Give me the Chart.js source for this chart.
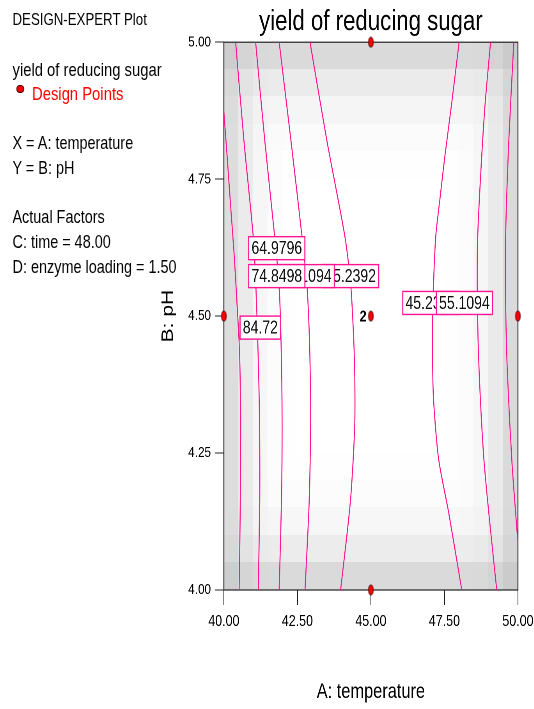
<!DOCTYPE html>
<html>
<head>
<meta charset="utf-8">
<script src="https://cdn.jsdelivr.net/npm/chart.js@4.4.1/dist/chart.umd.min.js"></script>
<style>
	html, body { margin: 0; padding: 0; background: #fff; overflow: hidden; }
	#page { position: absolute; left: 0; top: 0; width: 685px; height: 709px; transform: scaleX(0.78); transform-origin: 0 0; font-family: Arial, "Liberation Sans", sans-serif; }
	#chart { position: absolute; left: 0; top: 0; }
	.note { position: absolute; left: 16px; white-space: nowrap; line-height: 1; color: #000; font-size: 18.5px; }
	.dot { position: absolute; left: 21px; top: 85px; width: 8px; height: 6px; border: 1px solid #400000; border-radius: 50%; background: #ff0000; }
</style>
</head>
<body>
<div id="page">
	<canvas id="chart" width="685" height="709"></canvas>
	<div class="note" style="top: 11px; font-size: 17px">DESIGN-EXPERT Plot</div>
	<div class="note" style="top: 60px; font-size: 19px">yield of reducing sugar</div>
	<div class="dot"></div>
	<div class="note" style="top: 84px; left: 41px; font-size: 19px; color: #ff0000">Design Points</div>
	<div class="note" style="top: 134px">X = A: temperature</div>
	<div class="note" style="top: 159px">Y = B: pH</div>
	<div class="note" style="top: 207.5px">Actual Factors</div>
	<div class="note" style="top: 232.5px">C: time = 48.00</div>
	<div class="note" style="top: 257.5px">D: enzyme loading = 1.50</div>
</div>
<script>
// ============= Data =============

const tempTicks = [40, 42.5, 45, 47.5, 50];
const phTicks = [4, 4.25, 4.5, 4.75, 5];

// contour lines, read top to bottom (temperature, pH)
const contourLevels = [84.72, 74.8498, 64.9796, 55.1094, 45.2392, 45.2392, 55.1094, 64.9796];

const contour1Temp = [40.00, 40.12, 40.24, 40.34, 40.44, 40.53, 40.57, 40.56, 40.52];
const contour1PH = [4.872, 4.785, 4.693, 4.620, 4.529, 4.438, 4.310, 4.164, 4.000];

const contour2Temp = [40.40, 40.68, 41.00, 41.09, 41.16, 41.21, 41.22, 41.17];
const contour2PH = [5.000, 4.821, 4.644, 4.553, 4.440, 4.320, 4.164, 4.000];

const contour3Temp = [41.08, 41.39, 41.73, 41.88, 41.95, 41.98, 41.96, 41.88];
const contour3PH = [5.000, 4.821, 4.644, 4.553, 4.440, 4.310, 4.164, 4.000];

const contour4Temp = [41.88, 42.28, 42.66, 42.83, 42.92, 42.95, 42.90, 42.76];
const contour4PH = [5.000, 4.821, 4.644, 4.553, 4.438, 4.310, 4.160, 4.000];

const contour5Temp = [42.93, 43.50, 44.12, 44.32, 44.44, 44.45, 44.30, 43.97];
const contour5PH = [5.000, 4.821, 4.644, 4.553, 4.420, 4.300, 4.160, 4.000];

const contour6Temp = [48.00, 47.74, 47.52, 47.35, 47.20, 47.10, 47.12, 47.30, 47.65, 48.09];
const contour6PH = [5.000, 4.885, 4.794, 4.715, 4.642, 4.500, 4.360, 4.240, 4.140, 4.000];

const contour7Temp = [49.07, 48.88, 48.74, 48.63, 48.62, 48.68, 48.84, 49.03, 49.28];
const contour7PH = [5.000, 4.885, 4.765, 4.642, 4.529, 4.400, 4.240, 4.130, 4.000];

const contour8Temp = [49.86, 49.69, 49.58, 49.58, 49.64, 49.80, 50.00];
const contour8PH = [5.000, 4.821, 4.642, 4.529, 4.400, 4.230, 4.086];

// contour value boxes, in drawing order (later ones cover earlier ones)
const labelText = ["45.2392", "55.1094", "74.8498", "64.9796", "84.72", "45.2392", "55.1094"];
const labelTemp = [44.31, 42.80, 41.80, 41.80, 41.24, 47.04, 48.18];
const labelPH = [4.573, 4.573, 4.573, 4.624, 4.479, 4.524, 4.524];

const designTemp = [40, 45, 45, 45, 50];
const designPH = [4.5, 5, 4.5, 4, 4.5];
const designRuns = [1, 1, 2, 1, 1];

// grey depth of the standard error shading: 20 columns (40 -> 50) and 20 rows (pH 5 -> 4)
const shadeColumns = [34, 20, 9, 3, 1, 0, 0, 0, 0, 0, 0, 0, 0, 0, 0, 1, 3, 9, 21, 37];
const shadeRows = [37, 20, 10, 4, 1, 0, 0, 0, 0, 0, 0, 0, 0, 0, 0, 1, 3, 8, 19, 37];

const PINK = "#ff1493";
const FONT = "Arial, 'Liberation Sans', sans-serif";

// ============= Utility =============

function pairs(xs, ys)
{
	return xs.map((x, i) => ({ x, y: ys[i] }));
}

function createDotImage()
{
	const canvas = document.createElement("canvas");
	canvas.width = 8;
	canvas.height = 12;

	const ctx = canvas.getContext("2d");
	ctx.beginPath();
	ctx.ellipse(4, 6, 3.1, 4.9, 0, 0, Math.PI * 2);
	ctx.fillStyle = "#ff0000";
	ctx.fill();
	ctx.strokeStyle = "#400000";
	ctx.lineWidth = 1;
	ctx.stroke();

	return canvas;
}

function contourDataset(level, temps, phs)
{
	return {
		label: String(level),
		data: pairs(temps, phs),
		showLine: true,
		borderColor: PINK,
		borderWidth: 1.3,
		pointRadius: 0,
		tension: 0.25,
		fill: false
	};
}

// ============= Plugins =============

const shadingPlugin = {
	id: "shading",
	beforeDraw(chart)
	{
		const { ctx, scales: { x, y } } = chart;
		const cols = shadeColumns.length;
		const rows = shadeRows.length;

		ctx.save();
		for (let i = 0; i < cols; i++)
		{
			const x0 = Math.floor(x.getPixelForValue(40 + i * 10 / cols));
			const x1 = Math.ceil(x.getPixelForValue(40 + (i + 1) * 10 / cols));

			for (let j = 0; j < rows; j++)
			{
				const y0 = Math.floor(y.getPixelForValue(5 - j / rows));
				const y1 = Math.ceil(y.getPixelForValue(5 - (j + 1) / rows));
				const depth = Math.hypot(shadeColumns[i], shadeRows[j]);
				const g = Math.round(255 - depth);

				ctx.fillStyle = `rgb(${g},${g},${g})`;
				ctx.fillRect(x0, y0, x1 - x0, y1 - y0);
			}
		}
		ctx.restore();
	}
};

const framePlugin = {
	id: "frame",
	beforeDatasetsDraw(chart)
	{
		const { ctx, chartArea: a } = chart;
		ctx.save();
		ctx.strokeStyle = "#222";
		ctx.lineWidth = 1.2;
		ctx.strokeRect(a.left, a.top, a.right - a.left, a.bottom - a.top);
		ctx.restore();
	}
};

const labelPlugin = {
	id: "contourLabels",
	afterDatasetsDraw(chart)
	{
		const { ctx, scales: { x, y } } = chart;

		ctx.save();
		ctx.font = `18px ${FONT}`;
		ctx.textBaseline = "middle";
		ctx.textAlign = "left";

		labelText.forEach((text, i) =>
		{
			const cx = x.getPixelForValue(labelTemp[i]);
			const cy = y.getPixelForValue(labelPH[i]);
			const w = ctx.measureText(text).width + 7;
			const h = 23;

			ctx.fillStyle = "#fff";
			ctx.fillRect(cx - w / 2, cy - h / 2, w, h);
			ctx.strokeStyle = PINK;
			ctx.lineWidth = 1.4;
			ctx.strokeRect(cx - w / 2, cy - h / 2, w, h);
			ctx.fillStyle = "#111";
			ctx.fillText(text, cx - w / 2 + 3.5, cy + 1);
		});

		// replicate counts beside the design points
		ctx.font = `bold 16px ${FONT}`;
		ctx.textAlign = "right";
		ctx.fillStyle = "#000";
		designRuns.forEach((runs, i) =>
		{
			if (runs < 2) return;
			ctx.fillText(String(runs), x.getPixelForValue(designTemp[i]) - 5.5, y.getPixelForValue(designPH[i]) + 1);
		});

		ctx.restore();
	}
};

// ============= Chart =============

const datasets = [
	{
		label: "Design Points",
		data: pairs(designTemp, designPH),
		pointStyle: createDotImage(),
		pointRadius: 5,
		showLine: false,
		clip: false
	},
	contourDataset(contourLevels[0], contour1Temp, contour1PH),
	contourDataset(contourLevels[1], contour2Temp, contour2PH),
	contourDataset(contourLevels[2], contour3Temp, contour3PH),
	contourDataset(contourLevels[3], contour4Temp, contour4PH),
	contourDataset(contourLevels[4], contour5Temp, contour5PH),
	contourDataset(contourLevels[5], contour6Temp, contour6PH),
	contourDataset(contourLevels[6], contour7Temp, contour7PH),
	contourDataset(contourLevels[7], contour8Temp, contour8PH)
];

new Chart(document.getElementById("chart"), {
	type: "scatter",
	data: { datasets },
	options: {
		responsive: false,
		animation: false,
		devicePixelRatio: 2,
		layout: { padding: { left: 203, right: 21, top: 0, bottom: 4 } },
		plugins: {
			legend: { display: false },
			tooltip: { enabled: false },
			title: {
				display: true,
				text: "yield of reducing sugar",
				fullSize: false,
				color: "#000",
				font: { family: FONT, size: 28.5, weight: "normal" },
				padding: { top: 5, bottom: 3 }
			}
		},
		scales: {
			x: {
				type: "linear",
				min: 40,
				max: 50,
				afterFit: scale =>
				{
					scale.height = 115;
					scale.paddingLeft = 0;
					scale.paddingRight = 0;
				},
				afterBuildTicks: scale => { scale.ticks = tempTicks.map(value => ({ value })); },
				ticks: { callback: v => v.toFixed(2), color: "#000", font: { family: FONT, size: 16 }, padding: 7, maxRotation: 0, autoSkip: false },
				grid: { drawOnChartArea: false, tickLength: 15, color: "#222" },
				border: { color: "#222" },
				title: { display: true, text: "A: temperature", color: "#000", font: { family: FONT, size: 21 }, padding: 0 }
			},
			y: {
				type: "linear",
				min: 4,
				max: 5,
				afterFit: scale =>
				{
					scale.width = 84;
					scale.paddingTop = 0;
					scale.paddingBottom = 0;
				},
				afterBuildTicks: scale => { scale.ticks = phTicks.map(value => ({ value })); },
				ticks: { callback: v => v.toFixed(2), color: "#000", font: { family: FONT, size: 15 }, padding: 5, autoSkip: false },
				grid: { drawOnChartArea: false, tickLength: 11.5, color: "#222" },
				border: { color: "#222" },
				title: { display: true, text: "B: pH", color: "#000", font: { family: FONT, size: 21 }, padding: 0 }
			}
		}
	},
	plugins: [shadingPlugin, framePlugin, labelPlugin]
});
</script>
</body>
</html>
